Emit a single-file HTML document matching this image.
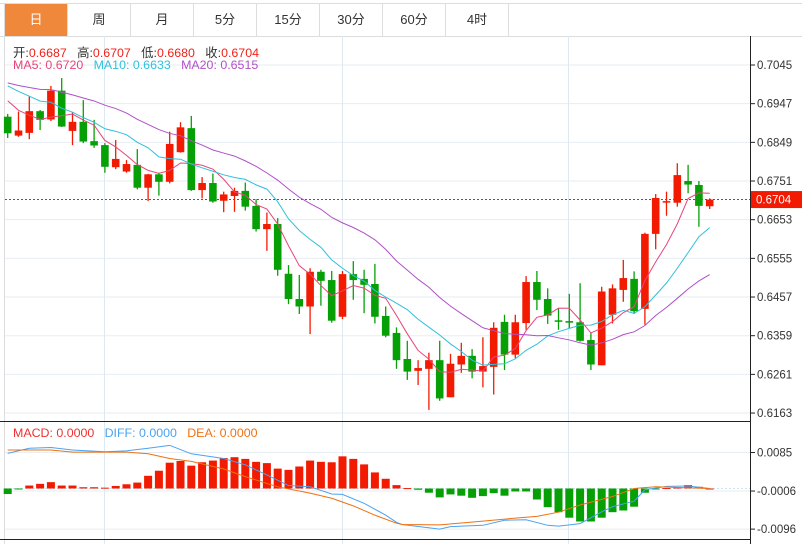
<!DOCTYPE html>
<html><head><meta charset="utf-8"><style>
html,body{margin:0;padding:0;background:#fff;}
body{width:802px;height:544px;overflow:hidden;position:relative;font-family:"Liberation Sans","Noto Sans CJK SC",sans-serif;}
.tabs{position:absolute;left:0;top:3px;width:802px;height:32px;border-top:1px solid #ddd;border-bottom:1px solid #ddd;}
.tab{position:absolute;top:0;height:32px;width:62px;border-left:1px solid #ddd;text-align:center;line-height:32px;font-size:13px;color:#333;}
.tab.on{background:#f0883c;color:#fff;}
.lg{position:absolute;font-size:12.4px;white-space:nowrap;}
svg{position:absolute;left:0;top:0;}
</style></head><body>
<div class="tabs">
<div class="tab on" style="left:4px">日</div>
<div class="tab" style="left:67px">周</div>
<div class="tab" style="left:130px">月</div>
<div class="tab" style="left:193px">5分</div>
<div class="tab" style="left:256px">15分</div>
<div class="tab" style="left:319px">30分</div>
<div class="tab" style="left:382px">60分</div>
<div class="tab" style="left:445px;border-right:1px solid #ddd">4时</div>
</div>
<svg id="chart" width="802" height="544"></svg>
<div class="lg" style="left:13px;top:43px"><span style="color:#333">开:</span><span style="color:#f0201a">0.6687</span>&nbsp;&nbsp;&nbsp;<span style="color:#333">高:</span><span style="color:#f0201a">0.6707</span>&nbsp;&nbsp;&nbsp;<span style="color:#333">低:</span><span style="color:#f0201a">0.6680</span>&nbsp;&nbsp;&nbsp;<span style="color:#333">收:</span><span style="color:#f0201a">0.6704</span></div>
<div class="lg" style="left:13px;top:58px"><span style="color:#e8457a">MA5: 0.6720</span>&nbsp;&nbsp;&nbsp;<span style="color:#30c0dc">MA10: 0.6633</span>&nbsp;&nbsp;&nbsp;<span style="color:#b050c8">MA20: 0.6515</span></div>
<div class="lg" style="left:13px;top:426px"><span style="color:#f03030">MACD: 0.0000</span>&nbsp;&nbsp;&nbsp;<span style="color:#4aa3f0">DIFF: 0.0000</span>&nbsp;&nbsp;&nbsp;<span style="color:#f07010">DEA: 0.0000</span></div>
<script>
const opens=[0.6914,0.6866,0.6873,0.6928,0.6907,0.6980,0.6878,0.6901,0.6852,0.6842,0.6786,0.6775,0.6792,0.6734,0.6768,0.6749,0.6824,0.6885,0.6728,0.6746,0.6701,0.6713,0.6726,0.6688,0.6629,0.6642,0.6516,0.6452,0.6433,0.6521,0.6500,0.6407,0.6515,0.6503,0.6490,0.6409,0.6366,0.6300,0.6270,0.6275,0.6297,0.6203,0.6286,0.6308,0.6268,0.6280,0.6394,0.6311,0.6391,0.6495,0.6452,0.6398,0.6396,0.6393,0.6348,0.6284,0.6412,0.6475,0.6503,0.6427,0.6617,0.6698,0.6696,0.6751,0.6741,0.6687];
const highs=[0.6921,0.6927,0.6965,0.6931,0.6992,0.7012,0.6925,0.6956,0.6906,0.6847,0.6855,0.6804,0.6832,0.6769,0.6772,0.6876,0.6900,0.6916,0.6761,0.6770,0.6724,0.6734,0.6747,0.6705,0.6671,0.6657,0.6538,0.6513,0.6530,0.6526,0.6523,0.6523,0.6548,0.6526,0.6541,0.6433,0.6380,0.6346,0.6297,0.6316,0.6346,0.6313,0.6341,0.6325,0.6355,0.6393,0.6412,0.6412,0.6510,0.6523,0.6479,0.6428,0.6465,0.6492,0.6367,0.6483,0.6489,0.6551,0.6522,0.6620,0.6718,0.6724,0.6796,0.6792,0.6751,0.6707];
const lows=[0.6860,0.6863,0.6857,0.6880,0.6903,0.6888,0.6842,0.6847,0.6835,0.6772,0.6781,0.6772,0.6730,0.6700,0.6714,0.6745,0.6823,0.6726,0.6707,0.6696,0.6672,0.6673,0.6676,0.6623,0.6574,0.6511,0.6439,0.6414,0.6363,0.6435,0.6392,0.6401,0.6450,0.6416,0.6390,0.6355,0.6275,0.6247,0.6234,0.6171,0.6194,0.6203,0.6265,0.6251,0.6228,0.6210,0.6272,0.6302,0.6374,0.6424,0.6389,0.6374,0.6378,0.6344,0.6272,0.6284,0.6390,0.6445,0.6414,0.6387,0.6578,0.6663,0.6686,0.6720,0.6635,0.6680];
const closes=[0.6872,0.6879,0.6928,0.6906,0.6980,0.6889,0.6901,0.6851,0.6841,0.6787,0.6807,0.6794,0.6734,0.6768,0.6749,0.6845,0.6887,0.6728,0.6746,0.6699,0.6717,0.6726,0.6686,0.6629,0.6642,0.6526,0.6452,0.6433,0.6521,0.6498,0.6397,0.6515,0.6500,0.6488,0.6407,0.6359,0.6297,0.6268,0.6277,0.6297,0.6200,0.6288,0.6308,0.6268,0.6282,0.6379,0.6311,0.6393,0.6495,0.6450,0.6410,0.6396,0.6392,0.6346,0.6286,0.6471,0.6479,0.6505,0.6421,0.6617,0.6708,0.6700,0.6766,0.6742,0.6688,0.6704];
const priorCloses=[0.7010,0.7030,0.7000,0.6990,0.7020,0.7040,0.7010,0.6990,0.7000,0.6980,0.7020,0.7050,0.7030,0.7010,0.7040,0.7000,0.6990,0.6960,0.6950];
const priceTicks=[0.7045,0.6947,0.6849,0.6751,0.6653,0.6555,0.6457,0.6359,0.6261,0.6163];
const lastPrice=0.6704;
const macdBars=[-0.0013,-0.0001,0.0007,0.0011,0.0015,0.0007,0.0007,0.0003,0.0003,0.0002,0.0006,0.0010,0.0014,0.0030,0.0042,0.0061,0.0065,0.0054,0.0062,0.0066,0.0072,0.0074,0.0070,0.0063,0.0060,0.0047,0.0044,0.0052,0.0066,0.0063,0.0062,0.0076,0.0070,0.0057,0.0038,0.0023,0.0008,0.0001,-0.0003,-0.0010,-0.0021,-0.0014,-0.0017,-0.0022,-0.0018,-0.0011,-0.0017,-0.0007,-0.0007,-0.0026,-0.0044,-0.0056,-0.0069,-0.0078,-0.0078,-0.0069,-0.0056,-0.0052,-0.0043,-0.0010,-0.0001,0.0001,0.0003,0.0008,0.0004,0.0000];
const diffIdx=[0,2,4,6,9,11,13,15,17,20,22,24,26,28,30,31,33,35,36,36.5,40,41,44,46,48,50,51,53,55,56,58,59,61,63,65];
const diffVals=[0.0083,0.0095,0.0097,0.0091,0.0087,0.0089,0.0095,0.0102,0.0082,0.0071,0.0056,0.0032,0.0007,0.0004,-0.0013,-0.0014,-0.0035,-0.0063,-0.0080,-0.0085,-0.0096,-0.0090,-0.0087,-0.0075,-0.0074,-0.0087,-0.0089,-0.0083,-0.0055,-0.0043,-0.0030,-0.0003,0.0005,0.0006,0.0000];
const deaIdx=[0,4,6,11,13,15,17,20,22,25,28,30,32,34,36,36.5,40,44,47,49,51,53,56,58,60,65];
const deaVals=[0.0091,0.0091,0.0086,0.0086,0.0082,0.0071,0.0064,0.0046,0.0028,0.0004,-0.0011,-0.0023,-0.0041,-0.0063,-0.0082,-0.0085,-0.0086,-0.0077,-0.0070,-0.0066,-0.0056,-0.0039,-0.0019,0.0000,0.0004,0.0000];
const macdTicks=[0.0085,-0.0006,-0.0096];

const NS='http://www.w3.org/2000/svg';
const svg=document.getElementById('chart');
const RED='#f21a00',GREEN='#06a006';
function X(i){return 7.7+i*10.8;}
function Y(v){return 65+(0.7045-v)*3946;}
function MY(v){return 488.5-v*4231;}
function mk(tag,attrs,parent){const e=document.createElementNS(NS,tag);for(const k in attrs)e.setAttribute(k,attrs[k]);(parent||svg).appendChild(e);return e;}

priceTicks.forEach(t=>{const l=mk('line',{x1:5,x2:750,y1:Y(t),y2:Y(t),stroke:'#e6edf3','stroke-width':1});

});
macdTicks.forEach(t=>{const l=mk('line',{x1:5,x2:750,y1:MY(t),y2:MY(t),stroke:'#e6edf3','stroke-width':1});

});
[104.5,342.5,568.5].forEach(x=>{const l=mk('line',{x1:x,x2:x,y1:36,y2:544,stroke:'#dde8f0','stroke-width':1});

});
mk('line',{x1:4.5,x2:4.5,y1:36,y2:544,stroke:'#ddd'});
const b1=mk('line',{x1:0,x2:750,y1:421.5,y2:421.5,stroke:'#222','stroke-width':1});


const b2=mk('line',{x1:0,x2:750,y1:539.5,y2:539.5,stroke:'#222','stroke-width':1});


const ax=mk('line',{x1:750.5,x2:750.5,y1:36,y2:544,stroke:'#222','stroke-width':1});



priceTicks.forEach(t=>{mk('line',{x1:750,x2:755,y1:Y(t),y2:Y(t),stroke:'#222'});
const tx=mk('text',{x:757,y:Y(t)+4,'font-size':11.5,fill:'#333','font-family':'Liberation Sans, sans-serif'});tx.textContent=t.toFixed(4);

});
macdTicks.forEach(t=>{mk('line',{x1:750,x2:755,y1:MY(t),y2:MY(t),stroke:'#222'});
const tx=mk('text',{x:757,y:MY(t)+4,'font-size':11.5,fill:'#333','font-family':'Liberation Sans, sans-serif'});tx.textContent=t.toFixed(4);

});

const lp=mk('line',{x1:5,x2:750,y1:Y(lastPrice),y2:Y(lastPrice),stroke:'#e02020','stroke-dasharray':'2,2','stroke-width':1});


const tag=mk('rect',{x:751,y:Y(lastPrice)-8.5,width:51,height:17,fill:'#f21a00'});


const tt=mk('text',{x:756,y:Y(lastPrice)+4,'font-size':11.5,fill:'#fff','font-family':'Liberation Sans, sans-serif'});tt.textContent=lastPrice.toFixed(4);



closes.forEach((c,i)=>{const o=opens[i],up=c>=o,col=up?RED:GREEN,x=X(i);
const g=mk('g',{});


mk('line',{x1:x,x2:x,y1:Y(highs[i]),y2:Y(lows[i]),stroke:col,'stroke-width':1.3},g);
const top=Y(Math.max(o,c)),bot=Y(Math.min(o,c));
mk('rect',{x:x-3.8,y:top,width:7.6,height:Math.max(1.5,bot-top),fill:col},g);});

const all=priorCloses.concat(closes);
function ma(n){return closes.map((_,i)=>{const k=i+priorCloses.length;let s=0;for(let j=k-n+1;j<=k;j++)s+=all[j];return s/n;});}
[[5,'#e8457a','ma5-line'],[10,'#30c0dc','ma10-line'],[20,'#b050c8','ma20-line']].forEach(([n,col,name])=>{
const vals=ma(n);const p=mk('polyline',{points:vals.map((v,i)=>X(i)+','+Y(v)).join(' '),fill:'none',stroke:col,'stroke-width':1});

});

mk('line',{x1:5,x2:750,y1:MY(0),y2:MY(0),stroke:'#cfe3ee','stroke-dasharray':'2,2'});
macdBars.forEach((v,i)=>{const y0=MY(0),y1=MY(v);
const r=mk('rect',{x:X(i)-4,y:Math.min(y0,y1),width:8,height:Math.max(1,Math.abs(y1-y0)),fill:v>=0?RED:GREEN});

});
const dl=mk('polyline',{points:diffIdx.map((k,j)=>X(k)+','+MY(diffVals[j])).join(' '),fill:'none',stroke:'#4aa3f0','stroke-width':1});


const el=mk('polyline',{points:deaIdx.map((k,j)=>X(k)+','+MY(deaVals[j])).join(' '),fill:'none',stroke:'#f07010','stroke-width':1});


</script>
</body></html>
